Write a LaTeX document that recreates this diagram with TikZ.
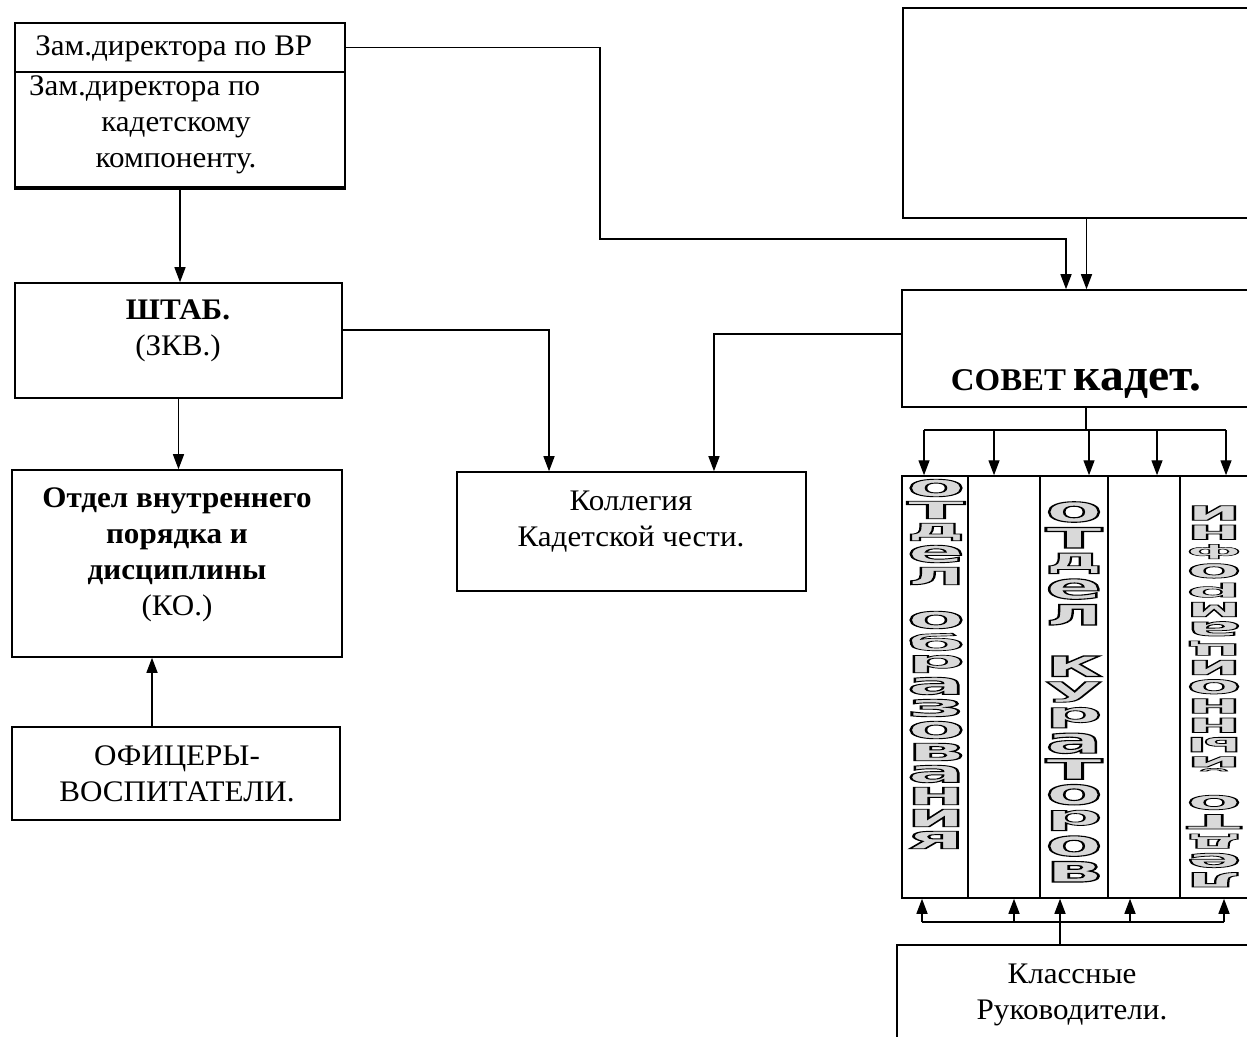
\documentclass[tikz,border=0pt]{standalone}
\usepackage{fontspec}
\setmainfont{Liberation Serif}[FakeStretch=1.04]
\newfontfamily\wafont{DejaVu Sans}
\usetikzlibrary{arrows.meta}
% stacked outline letters of the columns
\newcommand\waglyph[3]{\resizebox*{#1}{#2}{\special{pdf:literal direct 2 Tr 0.3 w 0 G}#3\special{pdf:literal direct 0 Tr}}}
\tikzset{
  box/.style={draw, line width=0.9pt, inner sep=0pt},
  txt/.style={font=\fontsize{17}{20.5}\selectfont, align=center, inner sep=0pt},
  link/.style={line width=0.8pt},
  arr/.style={line width=0.8pt, -{Triangle[length=0.3cm,width=0.22cm]}},
  waletter/.style={inner sep=0pt, text=gray!30, font=\wafont\bfseries}
}
\begin{document}
\begin{tikzpicture}[x=0.02cm, y=-0.02cm]
  \useasboundingbox (0,0) rectangle (1247,1037);
  \clip (0,0) rectangle (1247,1037);
  % boxes
  \node[box, minimum width=6.6cm, minimum height=0.98cm] (zamvr) at (180,47.5) {};
  \node[box, minimum width=6.6cm, minimum height=2.3cm] (zamkk) at (180,129.5) {};
  \draw[line width=2pt] (zamkk.south west) -- (zamkk.south east);
  \node[box, minimum width=7.34cm, minimum height=4.2cm] (topbox) at (1086.5,113) {};
  \node[box, minimum width=6.54cm, minimum height=2.3cm] (shtab) at (178.5,340.5) {};
  \node[box, minimum width=6.6cm, minimum height=3.74cm] (otdel) at (177,563.5) {};
  \node[box, minimum width=6.56cm, minimum height=1.86cm] (ofic) at (176,773.5) {};
  \node[box, minimum width=6.98cm, minimum height=2.38cm] (kolleg) at (631.5,531.5) {};
  \node[box, minimum width=7.36cm, minimum height=2.34cm] (sovet) at (1086,348.5) {};
  \node[box, minimum width=7.46cm, minimum height=2.3cm] (klass) at (1083.5,1002.5) {};
  % columns
  \node[box, minimum width=1.32cm, minimum height=8.44cm] (col1) at (935,687) {};
  \node[box, minimum width=1.44cm, minimum height=8.44cm] (col2) at (1004,687) {};
  \node[box, minimum width=1.36cm, minimum height=8.44cm] (col3) at (1074,687) {};
  \node[box, minimum width=1.44cm, minimum height=8.44cm] (col4) at (1144,687) {};
  \node[box, minimum width=1.4cm, minimum height=8.44cm] (col5) at (1215,687) {};
  % texts
  \node[txt, anchor=west] (zamvr-t) at (35,49) {Зам.директора по ВР};
  \node[txt] (zamkk-t) at (176,125) {Зам.директора по\hspace*{2.1em}\\кадетскому\\компоненту.};
  \node[txt] (shtab-t) at (178,331) {\textbf{ШТАБ.}\\(ЗКВ.)};
  \node[txt] (otdel-t) at (177,555) {\textbf{Отдел внутреннего}\\\textbf{порядка и}\\\textbf{дисциплины}\\(КО.)};
  \node[txt] (ofic-t) at (177,774) {ОФИЦЕРЫ-\\ВОСПИТАТЕЛИ.};
  \node[txt] (kolleg-t) at (631,522) {Коллегия\\Кадетской чести.};
  \node[txt] (sovet-t) at (1076,384) {\bfseries{\fontsize{18}{20}\selectfont СОВЕТ} {\fontsize{26}{28}\selectfont кадет.}};
  \node[txt] (klass-t) at (1072,995) {Классные\\Руководители.};
  % column words
  \foreach \ch [count=\k from 0] in {о,т,д,е,л}
    \node[waletter] (w1-\k) at (936,{488+22*\k}) {\waglyph{1.16cm}{0.35cm}{\ch}};
  \foreach \ch [count=\k from 6] in {о,б,р,а,з,о,в,а,н,и,я}
    \node[waletter] (w1-\k) at (936,{488+22*\k}) {\waglyph{1.16cm}{0.35cm}{\ch}};
  \foreach \ch [count=\k from 0] in {о,т,д,е,л}
    \node[waletter] (w3-\k) at (1074,{512+25.7*\k}) {\waglyph{1.14cm}{0.41cm}{\ch}};
  \foreach \ch [count=\k from 6] in {к,у,р,а,т,о,р,о,в}
    \node[waletter] (w3-\k) at (1074,{512+25.7*\k}) {\waglyph{1.14cm}{0.41cm}{\ch}};
  \foreach \ch [count=\k from 0] in {и,н,ф,о,р,м,а,ц,и,о,н,н,ы,й}
    \node[waletter, rotate=180] (w5-\k) at (1214,{513+19.3*\k}) {\waglyph{1.1cm}{0.29cm}{\ch}};
  \foreach \ch [count=\k from 15] in {о,т,д,е,л}
    \node[waletter, rotate=180] (w5-\k) at (1214,{513+19.3*\k}) {\waglyph{1.1cm}{0.29cm}{\ch}};
  % connectors
  \coordinate (vrbend) at (600,239);
  \draw[arr] (zamvr.east) -| (vrbend) -| ([xshift=-0.4cm]sovet.north);
  \draw[arr] (topbox.south) -- (topbox.south |- sovet.north);
  \draw[arr] (zamkk.south) -- (zamkk.south |- shtab.north);
  \draw[arr] (shtab.south) -- (shtab.south |- otdel.north);
  \coordinate (oficup) at ([xshift=-0.48cm]ofic.north);
  \draw[arr] (oficup) -- (oficup |- otdel.south);
  \draw[arr] ([yshift=0.21cm]shtab.east) -| ([xshift=-1.65cm]kolleg.north);
  \draw[arr] ([yshift=0.29cm]sovet.west) -| ([xshift=1.65cm]kolleg.north);
  % upper bus to the columns
  \coordinate (bustop) at (1086,430);
  \foreach \dx [count=\c] in {-0.22,-0.2,0.3,0.26,0.22}
    \coordinate (in\c) at ([xshift=\dx cm]col\c.north);
  \draw[link] (sovet.south) -- (sovet.south |- bustop);
  \draw[link] (in1 |- bustop) -- (in5 |- bustop);
  \foreach \c in {1,...,5}
    \draw[arr] (in\c |- bustop) -- (in\c);
  % lower bus from the class teachers
  \coordinate (busbot) at (1060,922);
  \foreach \dx [count=\c] in {-0.26,0.2,-0.28,-0.28,0.18}
    \coordinate (out\c) at ([xshift=\dx cm]col\c.south);
  \draw[link] (out1 |- busbot) -- (out5 |- busbot);
  \foreach \c in {1,2,4,5}
    \draw[arr] (out\c |- busbot) -- (out\c);
  \draw[arr] (out3 |- klass.north) -- (out3);
\end{tikzpicture}
\end{document}
